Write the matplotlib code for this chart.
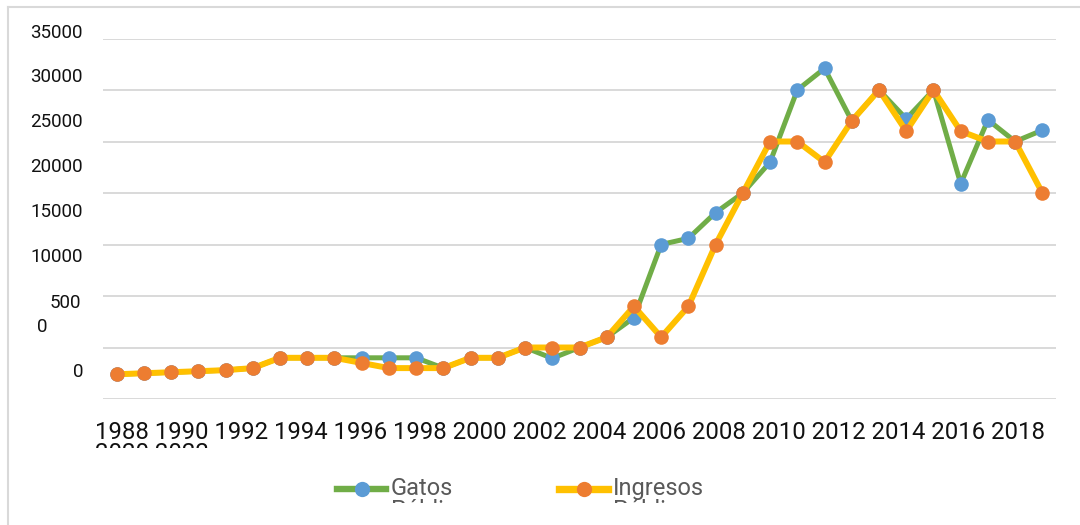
import matplotlib.pyplot as plt
from matplotlib.lines import Line2D
from matplotlib.patches import Rectangle

years = list(range(1988, 2023))
gastos = [2400, 2500, 2600, 2700, 2800, 3000, 4000, 4000, 4000, 4000,
          4000, 4000, 3000, 4000, 4000, 5000, 3950, 5000, 6000, 7900,
          15000, 15600, 18100, 20000, 23000, 30000, 32100, 27000, 30000, 27200,
          30000, 20900, 27100, 25000, 26100]
ingresos = [2400, 2500, 2600, 2700, 2800, 3000, 4000, 4000, 4000, 3500,
            3000, 3000, 3000, 4000, 4000, 5000, 5000, 5000, 6000, 9000,
            6000, 9000, 15000, 20000, 25000, 25000, 23000, 27000, 30000, 26000,
            30000, 26000, 25000, 25000, 20000]
series_names = ["Gatos Públicos", "Ingresos Públicos"]
y_labels = ["35000", "30000", "25000", "20000", "15000", "10000", "5000", "0"]

W, H = 1080, 525
plt.rcParams['font.family'] = ['Roboto', 'DejaVu Sans']

fig = plt.figure(figsize=(W / 100, H / 100), dpi=100)


def fx(px):
    return px / W


def fy(py):
    return 1 - py / H


ax = fig.add_axes([fx(103), fy(399), fx(1056) - fx(103), fy(38.5) - fy(399)])
x = list(range(len(years)))

ax.plot(x, gastos, color="#70AD47", linewidth=3.6, marker="o",
        markersize=10.5, markerfacecolor="#5B9BD5", markeredgewidth=0,
        solid_joinstyle="round")
ax.plot(x, ingresos, color="#FFC000", linewidth=4.3, marker="o",
        markersize=10.5, markerfacecolor="#ED7D31", markeredgewidth=0,
        solid_joinstyle="round")

ax.set_xlim(-0.5, len(years) - 0.5)
ax.set_ylim(0, 35000)
ax.set_yticks(range(0, 35001, 5000))
ax.yaxis.grid(True, color="#d9d9d9", linewidth=1.4)
ax.set_axisbelow(True)
ax.tick_params(left=False, bottom=False, labelleft=False, labelbottom=False)
for s in ax.spines.values():
    s.set_visible(False)

# outer chart frame (only top and left edges visible)
fig.add_artist(Line2D([fx(8), 1], [fy(7), fy(7)], color="#d9d9d9", lw=1.5))
fig.add_artist(Line2D([fx(8), fx(8)], [fy(7), 0], color="#d9d9d9", lw=1.5))

# y labels, drawn the way the rendered chart misplaces them
y_pos = [33, 77, 122, 167, 212, 257]
for lab, py in zip(y_labels[:6], y_pos):
    fig.text(fx(83), fy(py), lab, ha="right", va="center", fontsize=13.5,
             color="#111111")
fig.text(fx(81), fy(303), y_labels[6][:3], ha="right", va="center",
         fontsize=13.5, color="#111111")
fig.text(fx(42), fy(327), y_labels[6][3:], ha="center", va="center",
         fontsize=13.5, color="#111111")
fig.text(fx(83), fy(372), y_labels[7], ha="right", va="center",
         fontsize=13.5, color="#111111")

# x labels wrap onto a second, clipped row
x_labels = [str(y) for y in years[::2]]
fig.text(fx(95), fy(439), " ".join(x_labels[:16]), ha="left",
         va="baseline", fontsize=17.2, color="#111111")
clip_x = Rectangle((0, fy(448)), 1, 1, transform=fig.transFigure)
t2 = fig.text(fx(95), fy(460), " ".join(x_labels[16:]), ha="left",
              va="baseline", fontsize=17.2, color="#111111")
t2.set_clip_path(clip_x)

# legend, second line of each entry is clipped
clip_leg = Rectangle((0, fy(503)), 1, 1, transform=fig.transFigure)
legend_items = [
    (337, 386, "#70AD47", "#5B9BD5", 3.6, series_names[0]),
    (559, 608, "#FFC000", "#ED7D31", 4.3, series_names[1]),
]
for x0, x1, lc, mc, lw, name in legend_items:
    fig.add_artist(Line2D([fx(x0), fx(x1)], [fy(489), fy(489)], color=lc,
                          lw=lw + 1))
    fig.add_artist(Line2D([fx((x0 + x1) / 2)], [fy(489)], marker="o",
                          markersize=11, markerfacecolor=mc,
                          markeredgewidth=0, linestyle="none"))
    first, second = name.split(" ")
    fig.text(fx(x1 + 5), fy(495), first, ha="left", va="baseline",
             fontsize=17, color="#595959")
    t = fig.text(fx(x1 + 5), fy(517), second, ha="left", va="baseline",
                 fontsize=17, color="#595959")
    t.set_clip_path(clip_leg)

fig.savefig("out.png", dpi=100)
